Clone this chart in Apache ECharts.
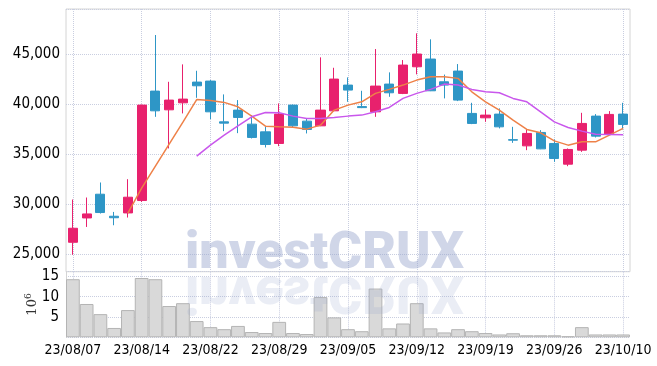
<!DOCTYPE html>
<html><head><meta charset="utf-8">
<script src="https://cdn.jsdelivr.net/npm/echarts@6/dist/echarts.min.js"></script>
<style>html,body{margin:0;padding:0;background:#fff}#c{width:657px;height:366px}</style>
</head><body><div id="c"></div>
<script>
const dates = ['23/08/07','23/08/08','23/08/09','23/08/10','23/08/11','23/08/14','23/08/16','23/08/17','23/08/18','23/08/21',
  '23/08/22','23/08/23','23/08/24','23/08/25','23/08/28','23/08/29','23/08/30','23/08/31','23/09/01','23/09/04',
  '23/09/05','23/09/06','23/09/07','23/09/08','23/09/11','23/09/12','23/09/13','23/09/14','23/09/15','23/09/18',
  '23/09/19','23/09/20','23/09/21','23/09/22','23/09/25','23/09/26','23/09/27','23/10/04','23/10/05','23/10/06','23/10/10'];
const opens  = [26200,28630,31000,28800,29130,30370,41300,39430,40130,42200,42300,38230,39400,38000,37230,36070,39900,38300,37830,39330,41900,39750,39230,42000,41070,43730,44500,42230,43300,39070,38630,39000,36450,35830,37170,36070,34000,35400,38800,37000,39000];
const closes = [27600,29030,29170,28650,30700,39900,39330,40400,40500,41830,39230,38100,38670,36670,35970,39000,37830,37470,39400,42500,41400,39650,41800,41130,43900,45000,41330,41900,40400,38070,38900,37730,36400,37070,35530,34570,35470,38070,36800,38970,37970];
const lows   = [24950,27730,29070,27900,28670,30230,38730,35570,39070,40630,38500,37300,37100,36570,35670,35800,37700,37070,37800,39300,40230,39600,38730,40730,41000,42970,41300,40570,40300,38000,38230,37570,36130,35400,35500,34230,33800,35230,36670,37000,37470];
const highs  = [30470,30670,32170,29230,32500,39950,46900,42230,43970,43330,42400,40970,40400,38900,37730,40070,39950,38570,44670,43630,42670,41330,45500,43170,44400,47070,46470,42950,44000,40130,39470,39570,37730,37500,37400,36470,35570,39130,39000,39300,40130];
const ma5  = [null,null,null,null,29100,31600,33800,36000,38200,40450,40370,40170,39730,38800,37800,37730,37700,37500,37900,39400,39900,40230,41070,41470,41900,42400,42730,42730,42570,41230,40230,39400,38400,37470,37130,36330,35900,36230,36230,36900,37570];
const ma10 = [null,null,null,null,null,null,null,null,null,34800,35900,36900,37830,38730,39170,39130,38800,38570,38570,38670,38800,38900,39230,39670,40570,41070,41470,42000,41900,41470,41230,41130,40570,40230,39230,38230,37670,37300,37000,36970,36930];
const volume = [14.3,8.2,5.7,2.3,6.7,14.6,14.3,7.7,8.4,4.0,2.5,2.0,2.8,1.3,1.05,3.8,1.05,0.8,9.9,4.9,2.0,1.5,12.0,2.2,3.4,8.4,2.2,1.2,2.0,1.5,1.05,0.7,1.0,0.5,0.5,0.5,0.25,2.5,0.7,0.7,0.7];
const priceTicks = [25000,30000,35000,40000,45000];
const volumeTicks = [5,10,15];

const FONT = '"DejaVu Sans Condensed","DejaVu Sans",sans-serif';
const GRIDC = '#c9cee0';
const chart = echarts.init(document.getElementById('c'), null, {renderer:'canvas'});
const candleData = dates.map((d,i)=>[opens[i],closes[i],lows[i],highs[i]]);

const option = {
  animation:false,
  backgroundColor:'#fff',
  grid:[
    {left:66,right:27,top:9,height:262.7,show:true,borderColor:'#d4d4d4',borderWidth:1,backgroundColor:'transparent'},
    {left:66,right:27,top:271.7,height:65.6,show:false}
  ],
  xAxis:[
    {type:'category',gridIndex:0,data:dates,boundaryGap:true,
     axisLine:{show:false},axisTick:{show:false},axisLabel:{show:false},
     splitLine:{show:true,interval:4,alignWithLabel:true,lineStyle:{type:'dotted',color:GRIDC,width:1}}},
    {type:'category',gridIndex:1,data:dates,boundaryGap:true,
     axisLine:{show:false},axisTick:{show:false},
     axisLabel:{interval:4,margin:6,fontFamily:FONT,fontSize:14,color:'#000'},
     splitLine:{show:true,interval:4,alignWithLabel:true,lineStyle:{type:'dotted',color:GRIDC,width:1}}}
  ],
  yAxis:[
    {type:'value',gridIndex:0,min:23260,max:49500,scale:true,
     axisLine:{show:false},axisTick:{show:false},
     axisLabel:{showMinLabel:false,showMaxLabel:false,margin:6,fontFamily:FONT,fontSize:15,color:'#000',
       formatter:v=>priceTicks.includes(v)?v.toLocaleString('en-US'):''},
     splitLine:{show:true,lineStyle:{type:'dotted',color:GRIDC,width:1}}},
    {type:'value',gridIndex:1,min:0,max:16.15,splitNumber:3,
     axisLine:{show:true,lineStyle:{color:'#d4d4d4'}},axisTick:{show:false},
     axisLabel:{showMinLabel:false,showMaxLabel:false,margin:7,fontFamily:FONT,fontSize:15,color:'#000',
       formatter:v=>volumeTicks.includes(v)?String(v):''},
     splitLine:{show:true,lineStyle:{type:'dotted',color:GRIDC,width:1}},
     name:'{a|10}{b|6}',nameLocation:'middle',nameRotate:90,nameGap:25,nameMoveOverlap:false,
     nameTextStyle:{color:'#333',rich:{a:{fontFamily:'DejaVu Serif',fontSize:13,color:'#333'},
       b:{fontFamily:'DejaVu Serif',fontSize:9,color:'#333',verticalAlign:'top',padding:[0,0,8,0]}}}}
  ],
  series:[
    {type:'candlestick',xAxisIndex:0,yAxisIndex:0,data:candleData,barWidth:'70%',
     itemStyle:{color:'#e8216d',color0:'#2e96c6',borderColor:'#e8216d',borderColor0:'#2e96c6',borderWidth:1}},
    {type:'line',xAxisIndex:0,yAxisIndex:0,data:ma5,showSymbol:false,symbol:'none',smooth:false,
     lineStyle:{color:'#ee8148',width:1.5},z:5},
    {type:'line',xAxisIndex:0,yAxisIndex:0,data:ma10,showSymbol:false,symbol:'none',smooth:false,
     lineStyle:{color:'#c957ec',width:1.5},z:5},
    {type:'bar',xAxisIndex:1,yAxisIndex:1,data:volume,barCategoryGap:'0%',
     itemStyle:{color:'#d9d9d9',borderColor:'#b4b4b4',borderWidth:1}}
  ],
  graphic:[
    {type:'text',x:185,y:254.5,z:100,silent:true,
     style:{text:'investCRUX',font:'900 52px Roboto',fill:'rgba(150,163,205,0.45)',verticalAlign:'middle',align:'left'}},
    {type:'text',x:185,y:289.5,scaleY:-1,z:100,silent:true,
     style:{text:'investCRUX',font:'900 52px Roboto',fill:'rgba(150,163,205,0.2)',verticalAlign:'middle',align:'left'}}
  ]
};
chart.setOption(option);
</script></body></html>
